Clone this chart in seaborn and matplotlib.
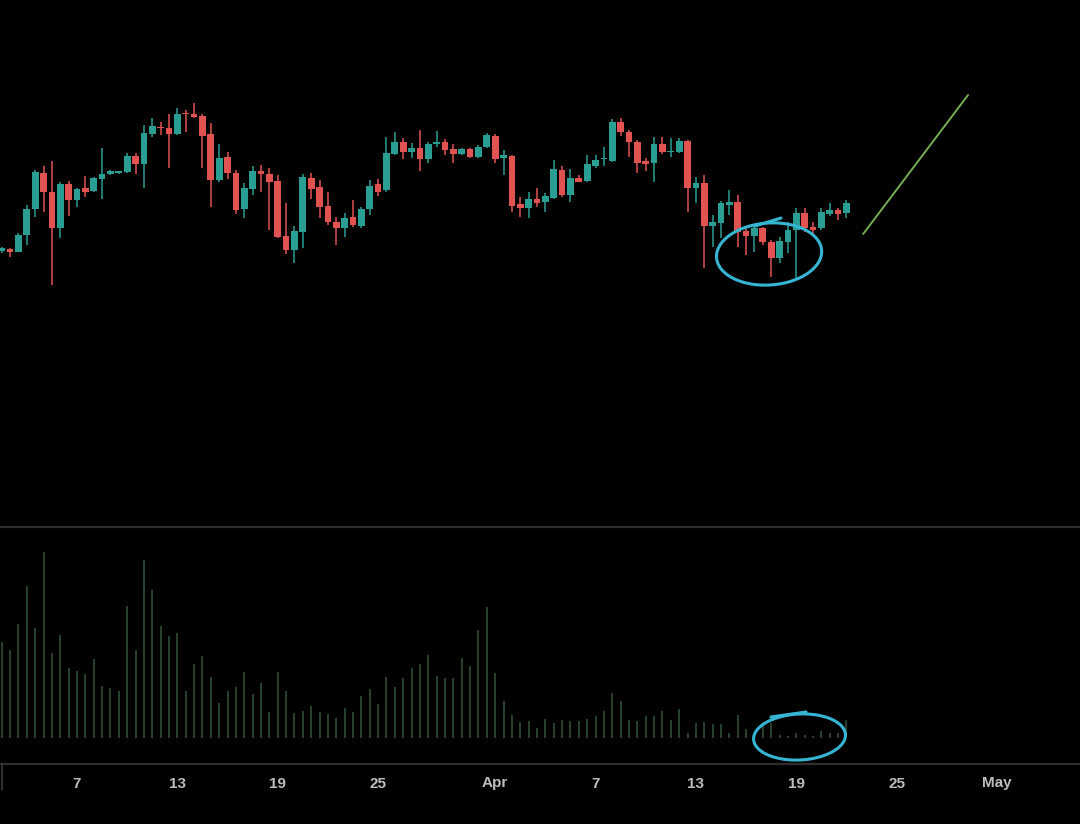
import numpy as np
import pandas as pd
import seaborn as sns
import matplotlib
matplotlib.use("Agg")
import matplotlib.pyplot as plt
import matplotlib.dates as mdates
from matplotlib.lines import Line2D

# 12h candles, Mar 2 12:00 -> Apr 22 00:00
dates = pd.date_range("2021-03-02 12:00", periods=102, freq="12h")

opens = [349.0, 351.3, 348.3, 365.0, 391.0, 427.3, 408.3, 371.7, 415.7, 400.0,
         411.7, 409.3, 421.0, 425.7, 426.7, 427.7, 444.0, 435.7, 465.7, 472.7,
         472.3, 465.7, 486.7, 486.0, 484.3, 465.7, 420.0, 443.3, 426.7, 390.7,
         410.7, 429.0, 426.0, 419.3, 364.3, 350.0, 367.7, 422.3, 413.3, 394.3,
         378.3, 372.3, 383.3, 374.3, 391.0, 415.7, 410.0, 446.0, 457.7, 448.3,
         452.3, 441.0, 455.7, 458.3, 450.7, 446.0, 450.7, 443.3, 453.3, 464.3,
         441.7, 444.3, 395.7, 392.3, 401.0, 398.3, 402.3, 430.0, 405.0, 421.7,
         419.0, 434.3, 440.7, 439.0, 477.7, 468.3, 458.3, 439.0, 436.7, 455.7,
         447.7, 447.7, 459.0, 412.3, 416.7, 374.3, 376.7, 395.0, 398.3, 369.0,
         364.3, 372.3, 358.3, 341.7, 358.3, 370.0, 386.7, 373.3, 371.7, 385.7,
         390.0, 386.7]
closes = [352.3, 348.3, 365.0, 391.0, 427.7, 407.7, 371.7, 415.7, 400.0, 411.0,
          408.3, 421.7, 426.0, 429.0, 429.0, 444.3, 435.7, 466.7, 474.3, 471.7,
          465.7, 485.7, 485.7, 483.0, 464.3, 420.0, 441.7, 426.7, 390.0, 411.7,
          429.0, 425.7, 417.7, 363.3, 350.0, 369.0, 423.3, 411.0, 393.3, 377.7,
          371.7, 382.3, 375.0, 391.0, 414.3, 408.3, 446.7, 457.7, 447.7, 451.7,
          441.0, 455.7, 458.3, 450.0, 446.0, 450.7, 443.3, 453.3, 465.0, 441.0,
          445.0, 394.3, 392.3, 401.0, 396.7, 404.0, 431.0, 405.0, 421.7, 418.3,
          435.7, 440.0, 442.3, 477.7, 467.7, 457.7, 436.7, 435.7, 455.7, 447.7,
          449.0, 459.0, 412.3, 416.7, 374.3, 378.3, 396.7, 398.3, 367.7, 364.3,
          372.3, 358.3, 341.7, 359.0, 370.0, 386.7, 372.3, 370.0, 387.7, 390.0,
          385.7, 396.7]
highs = [353.3, 352.3, 366.7, 395.0, 430.0, 434.0, 439.3, 417.7, 419.0, 412.3,
         424.3, 423.3, 451.7, 430.0, 429.5, 446.7, 446.7, 475.0, 482.3, 478.3,
         485.7, 491.7, 490.0, 496.7, 485.7, 476.7, 455.7, 447.7, 430.0, 416.7,
         434.3, 435.0, 431.7, 425.0, 396.7, 374.3, 425.7, 426.7, 420.0, 407.7,
         383.3, 386.7, 400.0, 393.3, 420.0, 421.0, 463.3, 468.3, 461.7, 456.7,
         470.0, 458.3, 469.0, 461.0, 455.7, 451.7, 451.7, 455.0, 466.7, 465.7,
         450.0, 445.0, 403.3, 407.7, 411.7, 406.7, 440.0, 434.3, 431.0, 425.0,
         445.0, 445.0, 453.3, 481.0, 481.7, 470.0, 460.0, 441.7, 463.3, 463.3,
         462.3, 462.3, 460.0, 423.3, 425.0, 385.0, 399.0, 410.0, 405.0, 373.3,
         375.0, 373.3, 360.0, 363.3, 378.3, 391.7, 391.7, 378.3, 391.7, 396.7,
         391.7, 400.0]
lows = [347.0, 343.3, 347.7, 355.0, 383.3, 388.3, 315.0, 361.7, 384.3, 393.3,
        403.3, 407.7, 401.0, 425.0, 426.0, 426.7, 425.7, 411.7, 463.3, 465.0,
        431.7, 465.0, 468.3, 481.7, 431.7, 393.3, 418.3, 421.0, 385.7, 381.7,
        405.0, 408.3, 370.0, 361.7, 345.7, 336.7, 351.7, 401.0, 381.7, 375.0,
        355.0, 363.3, 373.3, 372.3, 385.0, 404.3, 408.3, 445.0, 441.0, 442.3,
        429.0, 436.7, 453.3, 445.0, 436.7, 445.0, 442.3, 441.7, 451.7, 436.7,
        425.0, 388.3, 383.3, 382.3, 393.3, 388.3, 401.0, 403.3, 398.3, 417.7,
        417.7, 432.3, 434.3, 438.3, 464.3, 443.3, 426.7, 429.0, 417.7, 445.7,
        443.3, 446.7, 388.3, 396.7, 331.7, 353.3, 361.7, 385.0, 353.3, 345.0,
        348.3, 355.0, 323.3, 336.7, 346.7, 321.7, 368.3, 365.0, 370.0, 384.3,
        380.0, 381.7]
volumes = [957, 883, 1143, 1517, 1100, 1860, 850, 1033, 700, 667,
           643, 790, 523, 500, 467, 1323, 877, 1777, 1477, 1117,
           1023, 1050, 467, 743, 823, 610, 350, 467, 507, 657,
           443, 550, 257, 657, 467, 250, 267, 317, 257, 243,
           200, 300, 257, 423, 490, 343, 610, 510, 600, 700,
           743, 833, 617, 600, 600, 800, 717, 1083, 1310, 650,
           367, 233, 157, 167, 100, 190, 150, 183, 167, 167,
           190, 217, 267, 450, 367, 183, 167, 217, 217, 267,
           183, 290, 50, 150, 157, 143, 143, 50, 233, 90,
           50, 157, 150, 33, 20, 50, 33, 17, 67, 50,
           50, 183]

tick_dates = ["2021-03-07", "2021-03-13", "2021-03-19", "2021-03-25", "2021-04-01",
              "2021-04-07", "2021-04-13", "2021-04-19", "2021-04-25", "2021-05-01"]
tick_labels = ["7", "13", "19", "25", "Apr", "7", "13", "19", "25", "May"]

# hand-drawn annotations
trend_dates = ["2021-04-23 00:00", "2021-04-29 06:30"]
trend_prices = [366, 505]
price_circle = dict(center="2021-04-17 09:00", cy=346, w_days=6.3, h=62, angle=4)
price_tail_dates = ["2021-04-16 12:45", "2021-04-18 02:10"]
price_tail_vals = [374, 382]
vol_circle = dict(center="2021-04-19 04:40", cy=10, w_days=5.5, h=460, angle=3)
vol_tail_dates = ["2021-04-17 11:45", "2021-04-19 14:00"]
vol_tail_vals = [210, 260]

UP = "#2a9e93"
DOWN = "#e05350"
VOL = "#34543a"
PEN = "#36b5d3"
PX_PER_DAY = 16.727

sns.set_theme(style="dark", rc={
    "figure.facecolor": "black",
    "axes.facecolor": "black",
    "savefig.facecolor": "black",
})
plt.rcParams["font.family"] = ["Liberation Sans", "DejaVu Sans"]

fig = plt.figure(figsize=(10.8, 8.24), dpi=100)
ax = fig.add_axes([0, (824 - 527) / 824, 1, 527 / 824])
axv = fig.add_axes([0, 60 / 824, 1, 237 / 824], sharex=ax)

x = mdates.date2num(dates)
o = np.array(opens)
c = np.array(closes)
up = c >= o
colors = np.where(up, UP, DOWN)
body_lo = np.minimum(o, c)
body_h = np.maximum(np.abs(c - o), 1.6)

ax.vlines(x, lows, highs, colors=colors, linewidth=1.1, zorder=2)
ax.bar(x, body_h, bottom=body_lo, width=0.4, color=colors, linewidth=0, zorder=3)

axv.vlines(x, 0, volumes, colors=VOL, linewidth=1.1)


def pen_ellipse(axis, center, cy, w_days, h, angle, units_per_px):
    t = np.linspace(0, 2 * np.pi, 240)
    a = w_days * PX_PER_DAY / 2
    b = h / units_per_px / 2
    th = np.deg2rad(angle)
    ex = a * np.cos(t) * np.cos(th) - b * np.sin(t) * np.sin(th)
    ey = a * np.cos(t) * np.sin(th) + b * np.sin(t) * np.cos(th)
    cx = mdates.date2num(pd.Timestamp(center))
    axis.plot(cx + ex / PX_PER_DAY, cy + ey * units_per_px, color=PEN,
              lw=2.2, solid_capstyle="round", zorder=5)


pen_ellipse(ax, units_per_px=1.0, **price_circle)
ax.plot(pd.to_datetime(price_tail_dates), price_tail_vals, color=PEN, lw=2.2,
        solid_capstyle="round", zorder=5)
pen_ellipse(axv, units_per_px=10.0, **vol_circle)
axv.plot(pd.to_datetime(vol_tail_dates), vol_tail_vals, color=PEN, lw=2.2,
         solid_capstyle="round", zorder=5)

ax.plot(pd.to_datetime(trend_dates), trend_prices, color="#74ad54", lw=1.4, zorder=4)

xmin = pd.Timestamp("2021-03-07") - pd.Timedelta(days=77 / PX_PER_DAY)
xmax = pd.Timestamp("2021-03-07") + pd.Timedelta(days=(1080 - 77) / PX_PER_DAY)
ax.set_xlim(xmin, xmax)
ax.set_ylim(600 - 527, 600)
axv.set_ylim(-260, 2110)

for a in (ax, axv):
    a.grid(False)
    a.set_yticks([])
    for s in a.spines.values():
        s.set_visible(False)

ax.tick_params(axis="x", which="both", bottom=False, labelbottom=False)
axv.spines["top"].set_visible(True)
axv.spines["top"].set_color("#2e2e2e")
axv.spines["top"].set_linewidth(1.6)
axv.spines["bottom"].set_visible(True)
axv.spines["bottom"].set_color("#2e2e2e")
axv.spines["bottom"].set_linewidth(1.6)

axv.set_xticks(pd.to_datetime(tick_dates))
axv.set_xticklabels(tick_labels)
axv.tick_params(axis="x", length=0, pad=9, labelsize=11, labelcolor="#bdbdbd")
for lbl in axv.get_xticklabels():
    lbl.set_fontweight("bold")

fig.add_artist(Line2D([1.5 / 1080, 1.5 / 1080], [(824 - 790) / 824, 60 / 824],
                      color="#3a3a3a", lw=1.2))

fig.savefig("out.png", dpi=100, facecolor="black")
